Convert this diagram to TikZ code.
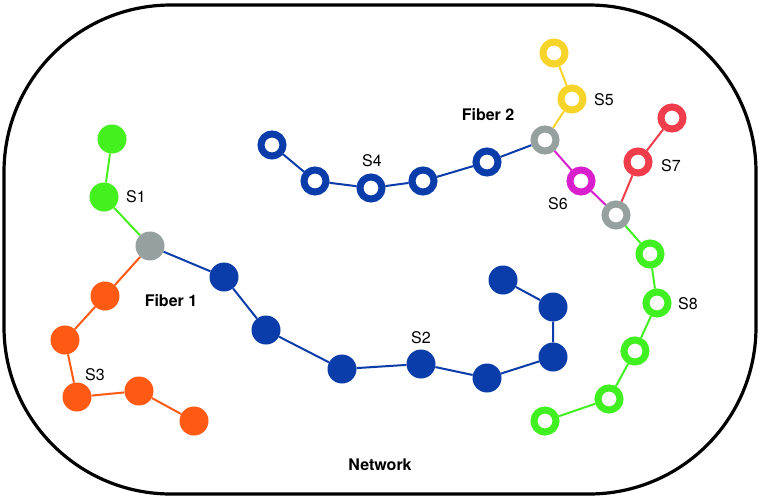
\documentclass[tikz,border=0pt]{standalone}
\usepackage{fontspec}
\setmainfont{TeX Gyre Heros}
\usetikzlibrary{backgrounds}
\definecolor{cgreen}{HTML}{44F01E}
\definecolor{cgray}{HTML}{95A09F}
\definecolor{corange}{HTML}{FF5A14}
\definecolor{cblue}{HTML}{0A3CAA}
\definecolor{cyellow}{HTML}{F7D42A}
\definecolor{cmag}{HTML}{D91ECD}
\definecolor{cred}{HTML}{F03C4B}
\definecolor{clgreen}{HTML}{40F020}
\tikzset{
  dotf/.style={circle, fill=#1, minimum size=29pt, inner sep=0pt},
  ringn/.style={circle, draw=#1, fill=white, line width=7pt, minimum size=22pt, inner sep=0pt},
  edge/.style={draw=#1, line width=2pt},
  lbl/.style={font=\fontsize{16}{19}\selectfont, inner sep=0pt},
  blbl/.style={font=\fontsize{16}{19}\selectfont\bfseries, inner sep=0pt}
}
\begin{document}
\begin{tikzpicture}[x=1pt,y=-1pt]
\useasboundingbox (0,0) rectangle (762,498);
\draw[line width=3.2pt, rounded corners=167pt] (4,5) rectangle (756,494);
% S1
\node[dotf=cgreen] (g1) at (112,139) {};
\node[dotf=cgreen] (g2) at (104,197) {};
\node[dotf=cgray] (h1) at (150,246) {};
% S3
\node[dotf=corange] (o1) at (105,296) {};
\node[dotf=corange] (o2) at (65,340) {};
\node[dotf=corange] (o3) at (77,397) {};
\node[dotf=corange] (o4) at (139,391) {};
\node[dotf=corange] (o5) at (194,421) {};
% S2
\node[dotf=cblue] (b1) at (224,277) {};
\node[dotf=cblue] (b2) at (266,330) {};
\node[dotf=cblue] (b3) at (342,369) {};
\node[dotf=cblue] (b4) at (421,364) {};
\node[dotf=cblue] (b5) at (487,378) {};
\node[dotf=cblue] (b6) at (553,357) {};
\node[dotf=cblue] (b7) at (553,307) {};
\node[dotf=cblue] (b8) at (503,280) {};
% S4
\node[ringn=cblue] (r1) at (272,145) {};
\node[ringn=cblue] (r2) at (315,181) {};
\node[ringn=cblue] (r3) at (371,188) {};
\node[ringn=cblue] (r4) at (423,181) {};
\node[ringn=cblue] (r5) at (487,162) {};
\node[ringn=cgray] (h2) at (545,140) {};
% S5
\node[ringn=cyellow] (y1) at (554,53) {};
\node[ringn=cyellow] (y2) at (572,99) {};
% S6
\node[ringn=cmag] (m1) at (581,181) {};
\node[ringn=cgray] (h3) at (616,215) {};
% S7
\node[ringn=cred] (d1) at (672,118) {};
\node[ringn=cred] (d2) at (638,162) {};
% S8
\node[ringn=clgreen] (l1) at (650,254) {};
\node[ringn=clgreen] (l2) at (657,303) {};
\node[ringn=clgreen] (l3) at (635,351) {};
\node[ringn=clgreen] (l4) at (609,399) {};
\node[ringn=clgreen] (l5) at (545,421) {};
\begin{scope}[on background layer]
\draw[edge=cgreen] (g1) -- (g2) -- (h1);
\draw[edge=corange] (h1) -- (o1) -- (o2) -- (o3) -- (o4) -- (o5);
\draw[edge=cblue] (h1) -- (b1) -- (b2) -- (b3) -- (b4) -- (b5) -- (b6) -- (b7) -- (b8);
\draw[edge=cblue] (r1) -- (r2) -- (r3) -- (r4) -- (r5) -- (h2);
\draw[edge=cyellow] (y1) -- (y2) -- (h2);
\draw[edge=cmag] (h2) -- (m1) -- (h3);
\draw[edge=cred] (d1) -- (d2) -- (h3);
\draw[edge=clgreen] (h3) -- (l1) -- (l2) -- (l3) -- (l4) -- (l5);
\end{scope}
% labels
\node[lbl] (tS1) at (136,197) {S1};
\node[lbl] (tS2) at (421,338) {S2};
\node[lbl] (tS3) at (95,375) {S3};
\node[lbl] (tS4) at (372,161) {S4};
\node[lbl] (tS5) at (604,100) {S5};
\node[lbl] (tS6) at (558,204) {S6};
\node[lbl] (tS7) at (671,166) {S7};
\node[lbl] (tS8) at (688,304) {S8};
\node[blbl] (tF1) at (171,301) {Fiber 1};
\node[blbl] (tF2) at (488,115) {Fiber 2};
\node[blbl] (tN) at (380,465) {Network};
\end{tikzpicture}
\end{document}
